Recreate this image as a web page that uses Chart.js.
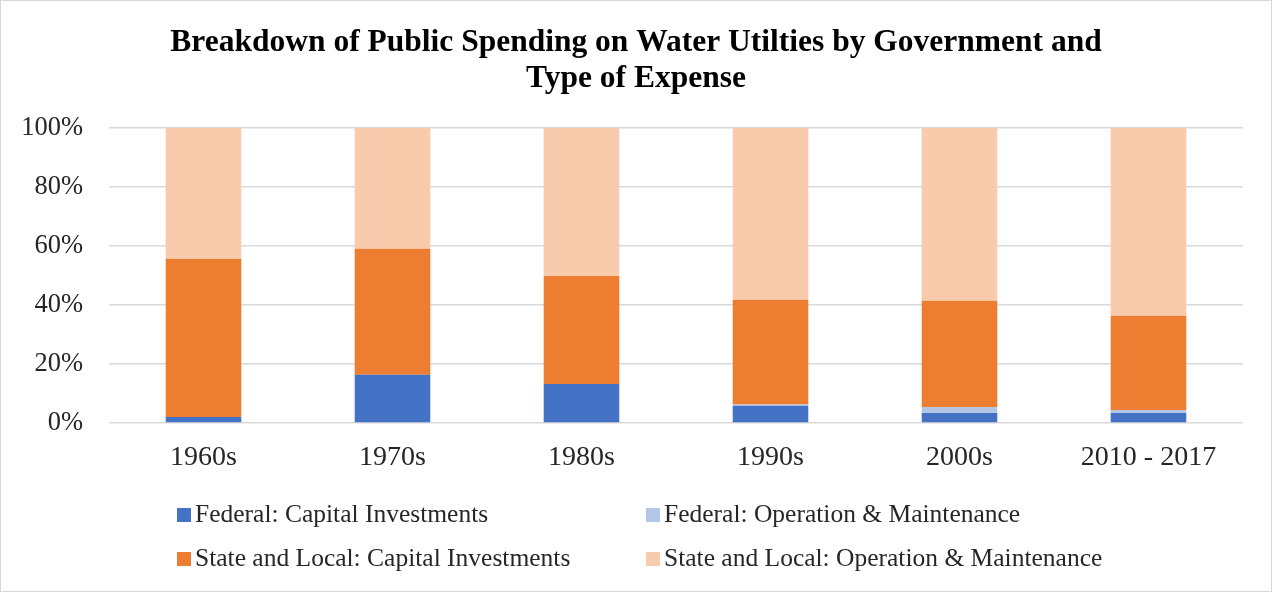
<!DOCTYPE html>
<html><head><meta charset="utf-8">
<script src="https://cdn.jsdelivr.net/npm/chart.js@4"></script>
<style>
html,body{margin:0;padding:0;background:#fff;}
#wrap{position:relative;width:1270px;height:590px;border:1px solid #d9d9d9;background:#fff;}
canvas{position:absolute;left:0;top:0;}
.leg{position:absolute;font-family:"Liberation Serif","Times New Roman",serif;font-size:25.5px;color:#262626;white-space:nowrap;line-height:28px;}
.leg span.box{display:inline-block;width:14px;height:14px;margin-right:4px;vertical-align:0px;}
</style></head>
<body>
<div id="wrap"><canvas id="c" width="1270" height="590"></canvas><div id="legend"></div></div>
<script>
const categories = ["1960s","1970s","1980s","1990s","2000s","2010 - 2017"];
const fedCapital = [2.0, 16.3, 13.2, 5.8, 3.4, 3.4];
const fedOM = [0, 0, 0, 0.5, 2.0, 1.0];
const slCapital = [53.6, 42.7, 36.6, 35.4, 36.0, 31.9];
const slOM = [44.4, 41.0, 50.2, 58.3, 58.6, 63.7];
const yTicks = [0,20,40,60,80,100];
const seriesNames = ["Federal: Capital Investments","Federal: Operation & Maintenance","State and Local: Capital Investments","State and Local: Operation & Maintenance"];
const colors = ["#4472C4","#B4C7E7","#ED7D31","#F8CBAD"];
const seriesData = [fedCapital, fedOM, slCapital, slOM];

const FONT = '"Liberation Serif","Times New Roman",serif';
Chart.defaults.font.family = FONT;
Chart.defaults.color = "#262626";

const noLabelClip = {
  id:"noLabelClip",
  afterLayout(chart){ Object.values(chart.scales).forEach(s=>{ s._computeLabelArea = ()=>undefined; }); }
};

new Chart(document.getElementById("c"), {
  type: "bar",
  data: {
    labels: categories,
    datasets: seriesNames.map((n,i)=>({label:n,data:seriesData[i],backgroundColor:colors[i],borderWidth:0,categoryPercentage:0.8,barPercentage:0.5}))
  },
  plugins:[noLabelClip],
  options: {
    responsive:false, animation:false,
    layout:{padding:{left:28,right:28,top:0,bottom:0}},
    plugins:{
      legend:{display:false},
      tooltip:{enabled:false},
      title:{display:true,text:["Breakdown of Public Spending on Water Utilties by Government and","Type of Expense"],
        font:{size:31.5,weight:"bold",family:FONT,lineHeight:1.17},color:"#000",padding:{top:23,bottom:30}}
    },
    scales:{
      x:{stacked:true,grid:{display:false,drawTicks:false},border:{display:false},
        ticks:{font:{size:28},color:"#262626",padding:18},
        afterFit:(s)=>{s.height=168;}},
      y:{stacked:true,min:0,max:100,
        afterBuildTicks:(s)=>{s.ticks=yTicks.map(v=>({value:v}));},
        grid:{color:"#d9d9d9",lineWidth:1.5,drawTicks:false},border:{display:false},
        ticks:{font:{size:26.5},color:"#262626",padding:26,callback:v=>v+"%"},
        afterFit:(s)=>{s.width=80;}}
    }
  }
});

const leg = document.getElementById("legend");
const pos = [[176,499],[645,499],[176,543],[645,543]];
seriesNames.forEach((n,i)=>{
  const d=document.createElement("div");d.className="leg";
  d.style.left=pos[i][0]+"px";d.style.top=pos[i][1]+"px";
  const b=document.createElement("span");b.className="box";b.style.background=colors[i];
  d.appendChild(b);d.appendChild(document.createTextNode(n));leg.appendChild(d);
});
</script>
</body></html>
